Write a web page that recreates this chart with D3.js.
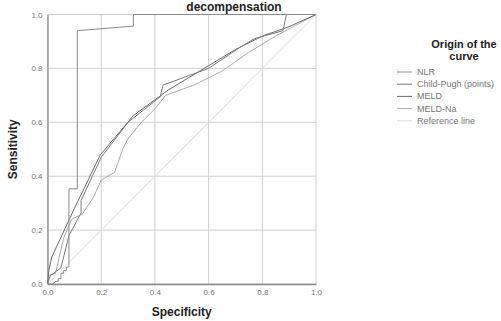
<!DOCTYPE html>
<html>
<head>
<meta charset="utf-8">
<script src="https://cdn.jsdelivr.net/npm/d3@7"></script>
<style>
  html, body { margin: 0; padding: 0; background: #fff; }
  svg { display: block; font-family: "Liberation Sans", Arial, sans-serif; }
</style>
</head>
<body>
<svg id="chart" width="501" height="321"></svg>
<script>
// ROC curves: [1 - specificity, sensitivity]
const nlr = [[0,0],[0.02,0],[0.03,0.01],[0.04,0.01],[0.04,0.02],[0.05,0.02],[0.05,0.04],[0.06,0.04],[0.06,0.05],[0.07,0.05],[0.07,0.063],[0.08,0.063],[0.08,0.353],[0.111,0.353],[0.111,0.94],[0.32,0.957],[0.32,1],[1,1]];
const childPugh = [[0,0],[0.01,0.03],[0.05,0.06],[0.08,0.18],[0.125,0.263],[0.125,0.31],[0.2,0.47],[0.3,0.6],[0.42,0.695],[0.43,0.738],[0.6,0.8],[0.72,0.88],[0.77,0.91],[0.877,0.94],[0.89,1],[1,1]];
const meld = [[0,0],[0.005,0.05],[0.016,0.1],[0.1,0.28],[0.196,0.478],[0.32,0.625],[0.45,0.72],[0.6,0.81],[0.7,0.87],[0.8,0.92],[0.9,0.955],[1,1]];
const meldNa = [[0,0],[0,0.03],[0.03,0.04],[0.06,0.17],[0.09,0.24],[0.13,0.26],[0.17,0.32],[0.2,0.385],[0.25,0.415],[0.28,0.5],[0.3,0.54],[0.35,0.6],[0.4,0.65],[0.44,0.7],[0.55,0.74],[0.65,0.79],[0.75,0.86],[0.85,0.92],[1,1]];
const reference = [[0,0],[1,1]];

const seriesNames = ["NLR", "Child-Pugh (points)", "MELD", "MELD-Na", "Reference line"];
const seriesData = [nlr, childPugh, meld, meldNa, reference];
const seriesColors = ["#8a8a8a", "#7a7a7a", "#6a6a6a", "#aaaaaa", "#dddddd"];
const tickValues = [0, 0.2, 0.4, 0.6, 0.8, 1.0];

const svg = d3.select("#chart");
const x = d3.scaleLinear().domain([0, 1]).range([47.5, 316]);
const y = d3.scaleLinear().domain([0, 1]).range([284, 14.5]);

// grid
const grid = svg.append("g");
grid.selectAll("line.gx").data(tickValues).join("line")
  .attr("x1", d => x(d)).attr("x2", d => x(d))
  .attr("y1", y(0)).attr("y2", y(1))
  .attr("stroke", "#d0d0d0").attr("stroke-width", 1);
grid.selectAll("line.gy").data(tickValues).join("line")
  .attr("y1", d => y(d)).attr("y2", d => y(d))
  .attr("x1", x(0)).attr("x2", x(1))
  .attr("stroke", "#d0d0d0").attr("stroke-width", 1);

// axes
const fmt = d3.format(".1f");
const xAxis = svg.append("g").attr("transform", `translate(0,${y(0)})`)
  .call(d3.axisBottom(x).tickValues(tickValues).tickFormat(fmt).tickSize(0).tickPadding(5));
const yAxis = svg.append("g").attr("transform", `translate(${x(0)},0)`)
  .call(d3.axisLeft(y).tickValues(tickValues).tickFormat(fmt).tickSize(0).tickPadding(5));
[xAxis, yAxis].forEach(a => {
  a.select(".domain").attr("stroke", "#999").attr("stroke-width", 1.5);
  a.selectAll("text").attr("fill", "#777").style("font-size", "8px")
    .style("font-family", "'Liberation Sans', Arial, sans-serif");
});
xAxis.select(".domain").attr("stroke", "#888");

// curves
const line = d3.line().x(d => x(d[0])).y(d => y(d[1]));
svg.append("g").selectAll("path").data(seriesData.slice().reverse()).join("path")
  .attr("d", line)
  .attr("fill", "none")
  .attr("stroke", (d, i) => seriesColors[seriesData.length - 1 - i])
  .attr("stroke-width", 1);

// titles
svg.append("text").attr("x", 234).attr("y", 11).attr("text-anchor", "middle")
  .attr("font-weight", "bold").attr("font-size", 12).attr("fill", "#222").text("decompensation");
svg.append("text").attr("x", (x(0) + x(1)) / 2).attr("y", 316).attr("text-anchor", "middle")
  .attr("font-weight", "bold").attr("font-size", 12).attr("fill", "#222").text("Specificity");
svg.append("text").attr("transform", `translate(17,${(y(0) + y(1)) / 2}) rotate(-90)`)
  .attr("text-anchor", "middle").attr("font-weight", "bold").attr("font-size", 12)
  .attr("fill", "#222").text("Sensitivity");

// legend
const lg = svg.append("g");
lg.append("text").attr("x", 464).attr("y", 48).attr("text-anchor", "middle")
  .attr("font-weight", "bold").attr("font-size", 11).attr("fill", "#222").text("Origin of the");
lg.append("text").attr("x", 464).attr("y", 60).attr("text-anchor", "middle")
  .attr("font-weight", "bold").attr("font-size", 11).attr("fill", "#222").text("curve");
const items = lg.selectAll("g.item").data(seriesNames).join("g")
  .attr("transform", (d, i) => `translate(0,${72 + i * 12.2})`);
items.append("line").attr("x1", 397).attr("x2", 412).attr("y1", 0).attr("y2", 0)
  .attr("stroke", (d, i) => seriesColors[i]).attr("stroke-width", 1);
items.append("text").attr("x", 417).attr("y", 3).attr("font-size", 9).attr("fill", "#777")
  .text(d => d);
</script>
</body>
</html>
